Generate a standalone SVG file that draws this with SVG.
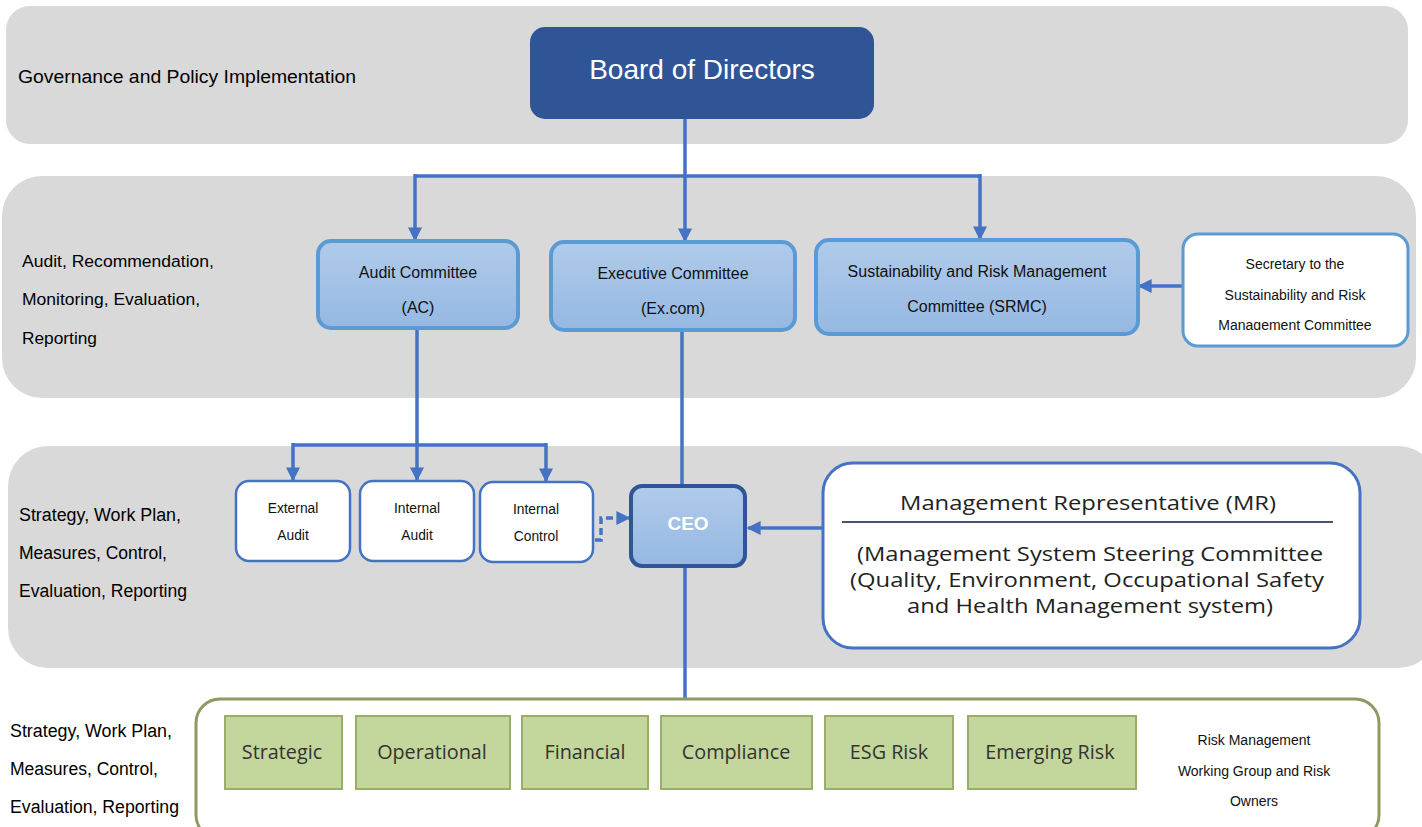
<svg xmlns="http://www.w3.org/2000/svg" width="1422" height="827" viewBox="0 0 1422 827">
  <defs>
    <linearGradient id="blueFill" x1="0" y1="0" x2="0" y2="1">
      <stop offset="0" stop-color="#b0cbea"/>
      <stop offset="1" stop-color="#95b8e2"/>
    </linearGradient>
    <marker id="arrow" viewBox="0 0 10 10" refX="9" refY="5" markerWidth="4" markerHeight="4" orient="auto" markerUnits="strokeWidth">
      <path d="M0 0 L10 5 L0 10 z" fill="#4472c4"/>
    </marker>
    <style>
      .band { fill: #d9d9d9; }
      .lbl { font-family: "Liberation Sans", Arial, sans-serif; font-size: 17.6px; fill: #000; }
      .lbl16 { font-family: "Liberation Sans", Arial, sans-serif; font-size: 17.2px; fill: #000; }
      .committee { fill: url(#blueFill); stroke: #5b9bd5; stroke-width: 4; }
      .ctext { font-family: "Liberation Sans", Arial, sans-serif; font-size: 16px; fill: #111; text-anchor: middle; }
      .small { font-family: "Liberation Sans", Arial, sans-serif; font-size: 13.8px; fill: #111; text-anchor: middle; }
      .sec { font-family: "Liberation Sans", Arial, sans-serif; font-size: 14px; fill: #111; text-anchor: middle; }
      .whitebox { fill: #fff; stroke: #4472c4; stroke-width: 2.5; }
      .conn { fill: none; stroke: #4472c4; stroke-width: 3.5; }
      .risk { fill: #c3d69b; stroke: #9aae6a; stroke-width: 2; }
      .rtext { font-family: "Open Sans", "Noto Sans", sans-serif; font-size: 19.8px; fill: #333; text-anchor: middle; }
      .mr { font-family: "Open Sans", "Noto Sans", sans-serif; font-size: 20.5px; fill: #222; text-anchor: middle; }
    </style>
  </defs>

  <rect width="1422" height="827" fill="#fff"/>

  <!-- horizontal bands -->
  <rect class="band" x="6" y="6" width="1402" height="138" rx="24"/>
  <rect class="band" x="2" y="176" width="1414" height="222" rx="40"/>
  <rect class="band" x="8" y="446" width="1430" height="222" rx="40"/>

  <!-- band labels -->
  <text class="lbl" x="18" y="83" font-size="18" textLength="338" lengthAdjust="spacingAndGlyphs">Governance and Policy Implementation</text>
  <text class="lbl16" x="22" y="267" textLength="192" lengthAdjust="spacingAndGlyphs">Audit, Recommendation,</text>
  <text class="lbl16" x="22" y="305" textLength="178" lengthAdjust="spacingAndGlyphs">Monitoring, Evaluation,</text>
  <text class="lbl16" x="22" y="344" textLength="75" lengthAdjust="spacingAndGlyphs">Reporting</text>
  <text class="lbl" x="19" y="521" textLength="162" lengthAdjust="spacingAndGlyphs">Strategy, Work Plan,</text>
  <text class="lbl" x="19" y="559" textLength="148" lengthAdjust="spacingAndGlyphs">Measures, Control,</text>
  <text class="lbl" x="19" y="597" textLength="168" lengthAdjust="spacingAndGlyphs">Evaluation, Reporting</text>
  <text class="lbl" x="10" y="737" textLength="162" lengthAdjust="spacingAndGlyphs">Strategy, Work Plan,</text>
  <text class="lbl" x="10" y="775" textLength="148" lengthAdjust="spacingAndGlyphs">Measures, Control,</text>
  <text class="lbl" x="10" y="813" textLength="169" lengthAdjust="spacingAndGlyphs">Evaluation, Reporting</text>

  <!-- connectors -->
  <g id="connectors">
    <path class="conn" d="M685 119 V176"/>
    <path class="conn" d="M415 176 H980"/>
    <path class="conn" d="M415 174 V240" marker-end="url(#arrow)"/>
    <path class="conn" d="M685 176 V241" marker-end="url(#arrow)"/>
    <path class="conn" d="M980 174 V239" marker-end="url(#arrow)"/>
    <path class="conn" d="M1183 286 H1139" marker-end="url(#arrow)"/>
    <path class="conn" d="M417 328 V445"/>
    <path class="conn" d="M293 445 H546"/>
    <path class="conn" d="M293 443 V480" marker-end="url(#arrow)"/>
    <path class="conn" d="M417 445 V480" marker-end="url(#arrow)"/>
    <path class="conn" d="M546 443 V481" marker-end="url(#arrow)"/>
    <path class="conn" d="M682 330 V485"/>
    <path class="conn" d="M595 540 H601 V518 H629" stroke-dasharray="7 4" marker-end="url(#arrow)"/>
    <path class="conn" d="M822 528 H748" marker-end="url(#arrow)"/>
    <path class="conn" d="M685 566 V698"/>
  </g>

  <!-- Board of Directors -->
  <g id="board">
    <rect x="530" y="27" width="344" height="92" rx="15" fill="#2f5597"/>
    <text x="702" y="79" font-family="'Liberation Sans', Arial, sans-serif" font-size="28" fill="#fff" text-anchor="middle">Board of Directors</text>
  </g>

  <!-- Committees -->
  <g id="audit-committee">
    <rect class="committee" x="318" y="241" width="200" height="87" rx="13"/>
    <text class="ctext" x="418" y="278">Audit Committee</text>
    <text class="ctext" x="418" y="313">(AC)</text>
  </g>
  <g id="executive-committee">
    <rect class="committee" x="551" y="242" width="244" height="88" rx="13"/>
    <text class="ctext" x="673" y="279">Executive Committee</text>
    <text class="ctext" x="673" y="314">(Ex.com)</text>
  </g>
  <g id="srmc">
    <rect class="committee" x="816" y="240" width="322" height="94" rx="13"/>
    <text class="ctext" x="977" y="277">Sustainability and Risk Management</text>
    <text class="ctext" x="977" y="312">Committee (SRMC)</text>
  </g>
  <g id="srmc-secretary">
    <rect x="1183" y="234" width="225" height="112" rx="15" fill="#fff" stroke="#5b9bd5" stroke-width="3"/>
    <text class="sec" x="1295" y="269">Secretary to the</text>
    <text class="sec" x="1295" y="300">Sustainability and Risk</text>
    <svg x="1185" y="316" width="220" height="14" overflow="hidden">
      <text class="sec" x="110" y="13.5">Management Committee</text>
    </svg>
  </g>

  <!-- Audit functions -->
  <g id="external-audit">
    <rect class="whitebox" x="236" y="481" width="114" height="80" rx="13"/>
    <text class="small" x="293" y="513">External</text>
    <text class="small" x="293" y="540">Audit</text>
  </g>
  <g id="internal-audit">
    <rect class="whitebox" x="360" y="481" width="114" height="80" rx="13"/>
    <text class="small" x="417" y="513">Internal</text>
    <text class="small" x="417" y="540">Audit</text>
  </g>
  <g id="internal-control">
    <rect class="whitebox" x="480" y="482" width="113" height="80" rx="13"/>
    <text class="small" x="536" y="514">Internal</text>
    <text class="small" x="536" y="541">Control</text>
  </g>

  <!-- CEO -->
  <g id="ceo">
    <rect x="631" y="486" width="114" height="80" rx="11" fill="url(#blueFill)" stroke="#2f5597" stroke-width="4"/>
    <text x="688" y="530" font-family="'Liberation Sans', Arial, sans-serif" font-size="19" font-weight="bold" fill="#fff" text-anchor="middle">CEO</text>
  </g>

  <!-- Management Representative -->
  <g id="mr">
    <rect x="823" y="463" width="537" height="185" rx="30" fill="#fff" stroke="#4472c4" stroke-width="3"/>
    <text class="mr" x="1088" y="510" textLength="376" lengthAdjust="spacingAndGlyphs">Management Representative (MR)</text>
    <line x1="842" y1="522" x2="1333" y2="522" stroke="#44546a" stroke-width="2"/>
    <text class="mr" x="1090" y="561" textLength="466" lengthAdjust="spacingAndGlyphs">(Management System Steering Committee</text>
    <text class="mr" x="1087" y="587" textLength="474" lengthAdjust="spacingAndGlyphs">(Quality, Environment, Occupational Safety</text>
    <text class="mr" x="1090" y="613" textLength="366" lengthAdjust="spacingAndGlyphs">and Health Management system)</text>
  </g>

  <!-- Risk categories -->
  <g id="risk-container">
    <rect x="196" y="699" width="1183" height="140" rx="24" fill="#fff" stroke="#8c9a64" stroke-width="3"/>
    <text class="sec" x="1254" y="745">Risk Management</text>
    <text class="sec" x="1254" y="776">Working Group and Risk</text>
    <text class="sec" x="1254" y="806">Owners</text>
  </g>
  <g id="risk-strategic">
    <rect class="risk" x="225" y="716" width="117" height="73"/>
    <text class="rtext" x="282" y="759">Strategic</text>
  </g>
  <g id="risk-operational">
    <rect class="risk" x="356" y="716" width="154" height="73"/>
    <text class="rtext" x="432" y="759">Operational</text>
  </g>
  <g id="risk-financial">
    <rect class="risk" x="522" y="716" width="126" height="73"/>
    <text class="rtext" x="585" y="759">Financial</text>
  </g>
  <g id="risk-compliance">
    <rect class="risk" x="661" y="716" width="151" height="73"/>
    <text class="rtext" x="736" y="759">Compliance</text>
  </g>
  <g id="risk-esg">
    <rect class="risk" x="825" y="716" width="128" height="73"/>
    <text class="rtext" x="889" y="759">ESG Risk</text>
  </g>
  <g id="risk-emerging">
    <rect class="risk" x="968" y="716" width="168" height="73"/>
    <text class="rtext" x="1050" y="759">Emerging Risk</text>
  </g>
</svg>
